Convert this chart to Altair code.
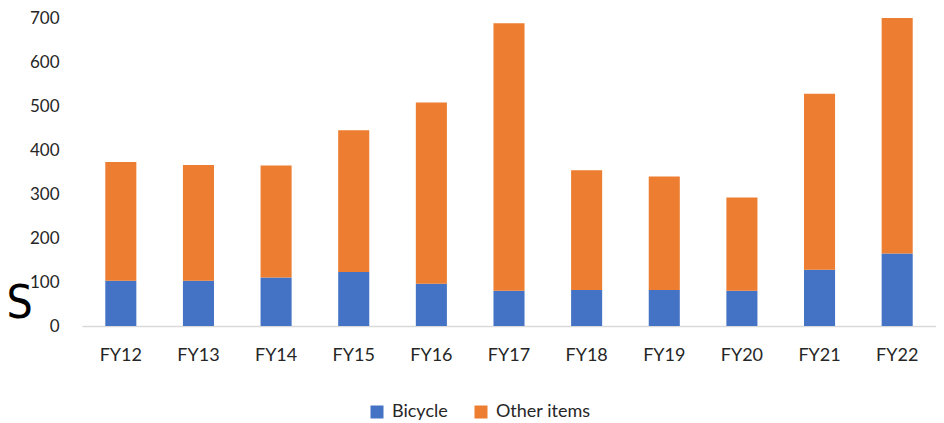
import altair as alt
import pandas as pd

years = ["FY12", "FY13", "FY14", "FY15", "FY16", "FY17", "FY18", "FY19", "FY20", "FY21", "FY22"]
bicycle = [103, 103, 110, 123, 96, 80, 82, 82, 80, 128, 165]
totals = [373, 366, 365, 445, 508, 688, 354, 340, 292, 528, 700]
other = [t - b for t, b in zip(totals, bicycle)]
series = ["Bicycle", "Other items"]
colors = ["#4472C4", "#ED7D31"]

rows = []
for i, y in enumerate(years):
    rows.append({"year": y, "series": series[0], "value": bicycle[i], "ord": 0})
    rows.append({"year": y, "series": series[1], "value": other[i], "ord": 1})
df = pd.DataFrame(rows)

FONT = "Lato"

chart = alt.Chart(df).mark_bar().encode(
    x=alt.X("year:N", sort=years,
            scale=alt.Scale(paddingInner=0.6, paddingOuter=0.3),
            axis=alt.Axis(title=None, labelAngle=0, ticks=False, domainColor="#d9d9d9",
                          domainWidth=1.5, labelPadding=20, labelFontSize=18,
                          labelColor="#262626", labelFont=FONT)),
    y=alt.Y("value:Q", stack="zero",
            scale=alt.Scale(domain=[0, 700], nice=False),
            axis=alt.Axis(values=[0, 100, 200, 300, 400, 500, 600, 700], grid=False,
                          domain=False, ticks=False, labelPadding=23, labelFontSize=17,
                          labelColor="#262626", labelFont=FONT,
                          title="S", titleAngle=0, titleX=-76, titleY=299,
                          titleAlign="left", titleBaseline="alphabetic",
                          titleFontSize=46, titleFontWeight="normal", titleColor="#000000",
                          titleFont="Liberation Sans Narrow, DejaVu Sans Condensed, sans-serif")),
    color=alt.Color("series:N", scale=alt.Scale(domain=series, range=colors),
                    legend=alt.Legend(title=None, orient="none", legendX=286, legendY=385,
                                      direction="horizontal", symbolType="square",
                                      symbolSize=169, symbolStrokeWidth=0,
                                      labelFontSize=18, labelFont=FONT, labelColor="#262626",
                                      labelOffset=6, columnPadding=24, padding=0)),
    order=alt.Order("ord:Q", sort="ascending"),
).properties(
    width=854, height=308,
    autosize=alt.AutoSizeParams(type="none"),
    padding={"left": 74, "top": 10, "right": 0, "bottom": 95},
).configure_view(stroke=None)

chart.save("out.html", embed_options={"renderer": "svg", "actions": False})
